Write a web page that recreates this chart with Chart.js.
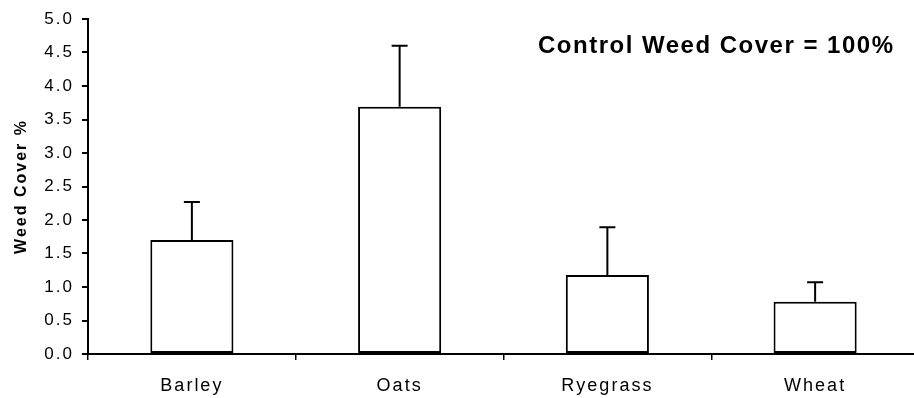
<!DOCTYPE html>
<html>
<head>
<meta charset="utf-8">
<script src="https://cdn.jsdelivr.net/npm/chart.js@4.4.1/dist/chart.umd.min.js"></script>
<style>
  html, body { margin: 0; padding: 0; background: #fff; overflow: hidden; }
  /* category axis runs off the right edge in the original figure */
  #wrap { width: 919px; height: 398px; }
</style>
</head>
<body>
<div id="wrap"><canvas id="weedChart"></canvas></div>
<script>
// Weed cover by cover crop (control = 100%)
const crops = ["Barley", "Oats", "Ryegrass", "Wheat"];
const weedCover = [1.7, 3.69, 1.18, 0.78];
const weedError = [0.57, 0.91, 0.71, 0.29];
const yTicks = [0, 0.5, 1, 1.5, 2, 2.5, 3, 3.5, 4, 4.5, 5];
const noteText = "Control Weed Cover = 100%";

const FONT = "'Liberation Sans', Arial, sans-serif";

// the scanned figure has wide, loosely spaced lettering
const spacing = {
  id: "spacing",
  beforeDraw(chart) {
    chart.ctx.letterSpacing = "2px";
  },
};

// upward-only error bars with a cap
const errorBars = {
  id: "errorBars",
  afterDatasetsDraw(chart) {
    const ctx = chart.ctx;
    const meta = chart.getDatasetMeta(0);
    const y = chart.scales.y;
    ctx.save();
    ctx.strokeStyle = "#000";
    ctx.lineWidth = 2;
    meta.data.forEach((bar, i) => {
      const top = y.getPixelForValue(weedCover[i] + weedError[i]);
      const base = y.getPixelForValue(weedCover[i]);
      ctx.beginPath();
      ctx.moveTo(bar.x, base);
      ctx.lineTo(bar.x, top);
      ctx.moveTo(bar.x - 8, top);
      ctx.lineTo(bar.x + 8, top);
      ctx.stroke();
    });
    ctx.restore();
  },
};

const note = {
  id: "note",
  afterDraw(chart) {
    const ctx = chart.ctx;
    ctx.save();
    ctx.letterSpacing = "1.5px";
    ctx.font = "bold 24px " + FONT;
    ctx.fillStyle = "#000";
    ctx.textAlign = "left";
    ctx.textBaseline = "middle";
    ctx.fillText(noteText, 538, 46);
    ctx.restore();
  },
};

new Chart(document.getElementById("weedChart"), {
  type: "bar",
  data: {
    labels: crops,
    datasets: [
      {
        data: weedCover,
        backgroundColor: "#fff",
        borderColor: "#000",
        borderWidth: 2,
        borderSkipped: false,
        barPercentage: 1,
        categoryPercentage: 0.4,
      },
    ],
  },
  options: {
    responsive: true,
    maintainAspectRatio: false,
    animation: false,
    layout: { padding: { left: 6, right: 0, top: 19, bottom: 0 } },
    plugins: {
      legend: { display: false },
      tooltip: { enabled: false },
    },
    scales: {
      x: {
        afterFit(scale) {
          scale.height = 44;
        },
        grid: {
          display: true,
          drawOnChartArea: false,
          drawTicks: true,
          tickLength: 6,
          color: "#000",
          lineWidth: 1.5,
        },
        border: { color: "#000", width: 2 },
        ticks: { color: "#000", font: { family: FONT, size: 18 }, padding: 15 },
      },
      y: {
        min: 0,
        max: 5,
        afterBuildTicks(scale) {
          scale.ticks = yTicks.map((v) => ({ value: v }));
        },
        afterFit(scale) {
          scale.width = 82;
        },
        grid: {
          display: true,
          drawOnChartArea: false,
          drawTicks: true,
          tickLength: 6,
          color: "#000",
          lineWidth: 2,
        },
        border: { color: "#000", width: 2 },
        ticks: {
          color: "#000",
          font: { family: FONT, size: 17 },
          padding: 8,
          callback: (v) => Number(v).toFixed(1),
        },
        title: {
          display: true,
          text: "Weed Cover %",
          color: "#000",
          font: { family: FONT, size: 16, weight: "bold" },
          padding: { top: 6, bottom: 4 },
        },
      },
    },
  },
  plugins: [spacing, errorBars, note],
});
</script>
</body>
</html>
